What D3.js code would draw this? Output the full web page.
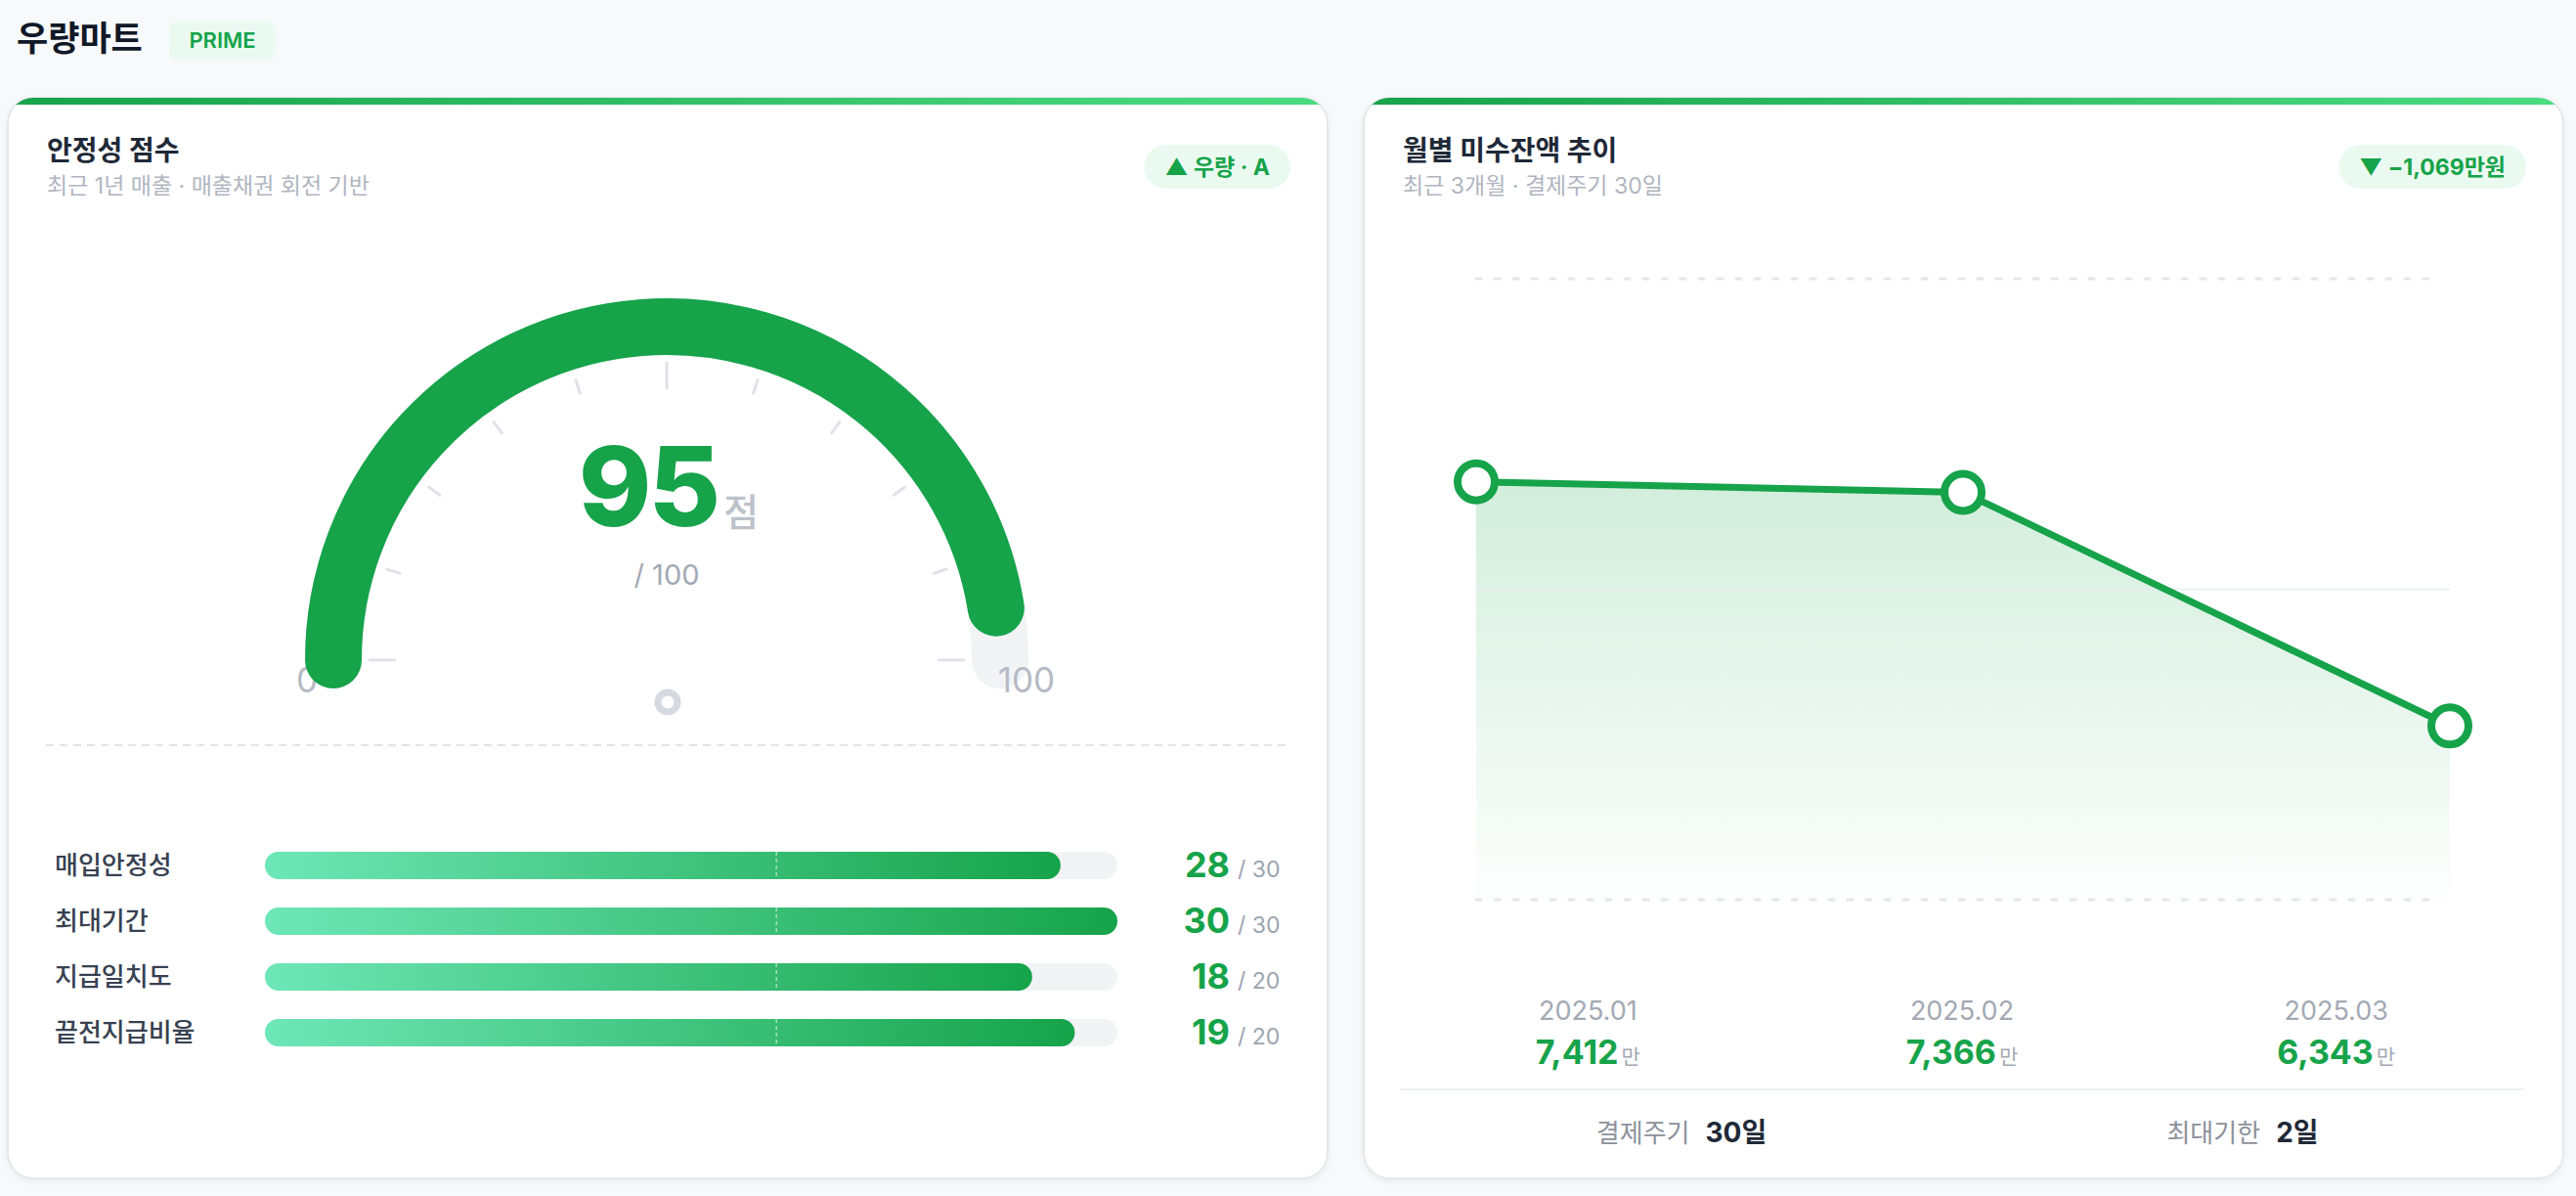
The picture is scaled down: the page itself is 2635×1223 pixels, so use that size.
<!DOCTYPE html>
<html><head><meta charset="utf-8">
<script src="https://cdn.jsdelivr.net/npm/d3@7"></script>
<style>
html,body{margin:0;padding:0;background:#f8f9fb;}
svg{display:block;font-family:Inter,"Noto Sans CJK KR",sans-serif;}
</style></head>
<body><svg id="c" width="2635" height="1223"></svg>
<script>
// ---- data ----
const companyName = "우량마트";
const tierBadge = "PRIME";
const gaugeTitle = "안정성 점수";
const gaugeSubtitle = "최근 1년 매출 · 매출채권 회전 기반";
const gradeBadge = "▲ 우량 · A";
const totalScore = 95;
const totalMax = 100;
const gaugeTicks = [0,10,20,30,40,50,60,70,80,90,100];
const majorTicks = [0,50,100];
const categories = ["매입안정성","최대기간","지급일치도","끝전지급비율"];
const scores = [28,30,18,19];
const maxScores = [30,30,20,20];
const markerRatio = 0.6;

const trendTitle = "월별 미수잔액 추이";
const trendSubtitle = "최근 3개월 · 결제주기 30일";
const months = ["2025.01","2025.02","2025.03"];
const balances = [7412,7366,6343];
const footerLabels = ["결제주기","최대기한"];
const footerValues = ["30일","2일"];

const GREEN = "#16a34a";
const svg = d3.select("#c");
const defs = svg.append("defs");

// gradients
const topGrad = defs.append("linearGradient").attr("id","topbar");
topGrad.append("stop").attr("offset","0%").attr("stop-color","#16a34a");
topGrad.append("stop").attr("offset","100%").attr("stop-color","#4ade80");
const barGrad = defs.append("linearGradient").attr("id","bargrad");
barGrad.append("stop").attr("offset","0%").attr("stop-color","#6ee7b7");
barGrad.append("stop").attr("offset","100%").attr("stop-color","#16a34a");
const areaGrad = defs.append("linearGradient").attr("id","areagrad").attr("x1",0).attr("y1",0).attr("x2",0).attr("y2",1);
areaGrad.append("stop").attr("offset","0%").attr("stop-color",GREEN).attr("stop-opacity",0.19);
areaGrad.append("stop").attr("offset","100%").attr("stop-color",GREEN).attr("stop-opacity",0.01);
const sh = defs.append("filter").attr("id","shadow").attr("x","-5%").attr("y","-5%").attr("width","110%").attr("height","110%");
sh.append("feDropShadow").attr("dx",0).attr("dy",2).attr("stdDeviation",3).attr("flood-color","#0f172a").attr("flood-opacity",0.06);

// ---- page header ----
svg.append("text").attr("x",17).attr("y",52).attr("font-size",35).attr("font-weight",700).attr("fill","#111827").text(companyName);
svg.append("rect").attr("x",173).attr("y",21).attr("width",109).attr("height",41).attr("rx",10).attr("fill","#eafaf0");
svg.append("text").attr("x",227.5).attr("y",49).attr("text-anchor","middle").attr("font-size",22).attr("font-weight",600).attr("fill",GREEN).text(tierBadge);

// ---- cards ----
function card(id,x,w,title,sub,badge){
  const y=100,h=1105;
  defs.append("clipPath").attr("id","clip"+id).append("rect").attr("x",x).attr("y",y).attr("width",w).attr("height",h).attr("rx",26);
  svg.append("rect").attr("x",x).attr("y",y).attr("width",w).attr("height",h).attr("rx",26)
     .attr("fill","#fff").attr("stroke","#e5e7eb").attr("stroke-width",2).attr("filter","url(#shadow)");
  svg.append("rect").attr("x",x).attr("y",y).attr("width",w).attr("height",7).attr("fill","url(#topbar)").attr("clip-path","url(#clip"+id+")");
  svg.append("text").attr("x",x+40).attr("y",164).attr("font-size",28).attr("font-weight",700).attr("fill","#1f2937").text(title);
  svg.append("text").attr("x",x+40).attr("y",198).attr("font-size",23).attr("fill","#b0b5bf").text(sub);
  const g=svg.append("g");
  const br=g.append("rect").attr("y",148).attr("height",45).attr("rx",22.5).attr("fill","#eafaf0");
  const bt=g.append("text").attr("y",179).attr("text-anchor","middle").attr("font-size",23).attr("font-weight",700).attr("fill",GREEN).text(badge);
  const tw=bt.node().getComputedTextLength();
  const bw=tw+42, right=x+w-38;
  br.attr("x",right-bw).attr("width",bw);
  bt.attr("x",right-bw/2);
}
card("L",8,1350,gaugeTitle,gaugeSubtitle,gradeBadge);
const change = balances[balances.length-1]-balances[0];
card("R",1395,1227,trendTitle,trendSubtitle,"▼ "+d3.format(",")(change)+"만원");

// ---- gauge ----
const cx=682, cy=675, rMid=341, thick=58;
const ang = d3.scaleLinear().domain([0,totalMax]).range([Math.PI,2*Math.PI]);
function arcPath(v0,v1){const p=d3.path();p.arc(cx,cy,rMid,ang(v0),ang(v1),false);return p.toString();}
const gg=svg.append("g");
gg.append("path").attr("d",arcPath(0,totalMax)).attr("fill","none").attr("stroke","#f1f3f5").attr("stroke-width",thick).attr("stroke-linecap","round");
gg.selectAll("line.tick").data(gaugeTicks).join("line")
  .each(function(v){
    const a=ang(v), major=majorTicks.includes(v);
    const r0=major?278:287, r1=major?304:301;
    d3.select(this).attr("x1",cx+r0*Math.cos(a)).attr("y1",cy+r0*Math.sin(a))
      .attr("x2",cx+r1*Math.cos(a)).attr("y2",cy+r1*Math.sin(a));
  })
  .attr("stroke","#dfe2e8").attr("stroke-width",3).attr("stroke-linecap","round");
gg.append("text").attr("x",cx+ (rMid+30)*Math.cos(ang(0))+3).attr("y",cy+33).attr("text-anchor","middle").attr("font-size",35).attr("fill","#b5bac4").text(0);
gg.append("text").attr("x",cx+ (rMid+30)*Math.cos(ang(totalMax))-3).attr("y",cy+33).attr("text-anchor","middle").attr("font-size",35).attr("fill","#b5bac4").text(totalMax);
gg.append("path").attr("d",arcPath(0,totalScore)).attr("fill","none").attr("stroke",GREEN).attr("stroke-width",thick).attr("stroke-linecap","round");
const st=gg.append("text").attr("x",cx+2).attr("y",538).attr("text-anchor","middle");
st.append("tspan").attr("font-size",113).attr("font-weight",800).attr("fill",GREEN).attr("letter-spacing",-3).text(totalScore);
st.append("tspan").attr("dx",6).attr("font-size",39).attr("font-weight",500).attr("fill","#bcc1ca").text("점");
gg.append("text").attr("x",cx).attr("y",598).attr("text-anchor","middle").attr("font-size",29).attr("fill","#a3a9b4").text("/ "+totalMax);
gg.append("circle").attr("cx",cx+1).attr("cy",718).attr("r",10).attr("fill","#fff").attr("stroke","#d5d9e0").attr("stroke-width",7);
svg.append("line").attr("x1",47).attr("x2",1321).attr("y1",762).attr("y2",762).attr("stroke","#e1e4e9").attr("stroke-width",2).attr("stroke-dasharray","8 6");

// ---- breakdown bars ----
const rowY = d3.scalePoint().domain(categories).range([885,1056]);
const barH=28, bx0=271, bx1=1143;
const rows = svg.append("g").selectAll("g").data(categories).join("g");
rows.each(function(cat,i){
  const g=d3.select(this), yc=rowY(cat);
  const xs=d3.scaleLinear().domain([0,maxScores[i]]).range([bx0,bx1]);
  g.append("text").attr("x",56).attr("y",yc+9).attr("font-size",26).attr("font-weight",500).attr("fill","#374151").text(cat);
  g.append("rect").attr("x",xs(0)).attr("y",yc-barH/2).attr("width",xs(maxScores[i])-xs(0)).attr("height",barH).attr("rx",barH/2).attr("fill","#f1f3f5");
  g.append("rect").attr("x",xs(0)).attr("y",yc-barH/2).attr("width",xs(scores[i])-xs(0)).attr("height",barH).attr("rx",barH/2).attr("fill","url(#bargrad)");
  const mx=xs(maxScores[i]*markerRatio);
  g.append("line").attr("x1",mx).attr("x2",mx).attr("y1",yc-barH/2).attr("y2",yc+barH/2).attr("stroke","#ffffff").attr("stroke-opacity",0.55).attr("stroke-width",1.5).attr("stroke-dasharray","4 3");
  g.append("text").attr("x",1258).attr("y",yc+12).attr("text-anchor","end").attr("font-size",36).attr("font-weight",700).attr("fill",GREEN).text(scores[i]);
  g.append("text").attr("x",1266).attr("y",yc+12).attr("font-size",23).attr("fill","#9ca3af").text("/ "+maxScores[i]);
});

// ---- trend chart ----
const x = d3.scalePoint().domain(months).range([1510,2506]);
const y = d3.scaleLinear().domain([d3.min(balances)*0.88, d3.max(balances)*1.12]).range([920,285]);
const [d0,d1]=y.domain();
const grid=[{v:d1,dash:"5 14"},{v:(d0+d1)/2,dash:null},{v:d0,dash:"5 14"}];
const cg=svg.append("g");
const pts=months.map((m,i)=>({m,v:balances[i]}));
cg.append("path").datum(pts)
  .attr("d",d3.area().x(d=>x(d.m)).y0(y(d0)).y1(d=>y(d.v)))
  .attr("fill","url(#areagrad)");
cg.selectAll("line.grid").data(grid).join("line")
  .attr("x1",1510).attr("x2",d=>d.dash?2494:2506).attr("y1",d=>y(d.v)).attr("y2",d=>y(d.v))
  .attr("stroke",d=>d.dash?"#e3e6ea":"#e9ecef").attr("stroke-opacity",d=>d.dash?1:0.8).attr("stroke-width",d=>d.dash?3:2)
  .attr("stroke-dasharray",d=>d.dash).attr("stroke-linecap",d=>d.dash?"round":"butt");
cg.append("path").datum(pts)
  .attr("d",d3.line().x(d=>x(d.m)).y(d=>y(d.v)))
  .attr("fill","none").attr("stroke",GREEN).attr("stroke-width",7).attr("stroke-linejoin","round");
cg.selectAll("circle").data(pts).join("circle")
  .attr("cx",d=>x(d.m)).attr("cy",d=>y(d.v)).attr("r",19)
  .attr("fill","#fff").attr("stroke",GREEN).attr("stroke-width",8);

// labels under chart
const col = d3.scaleBand().domain(months).range([1433,2581]);
const lab = svg.append("g").selectAll("g").data(pts).join("g");
lab.append("text").attr("x",d=>col(d.m)+col.bandwidth()/2).attr("y",1043).attr("text-anchor","middle")
  .attr("font-size",27).attr("fill","#a3a9b3").text(d=>d.m);
const vt=lab.append("text").attr("x",d=>col(d.m)+col.bandwidth()/2).attr("y",1088).attr("text-anchor","middle");
vt.append("tspan").attr("font-size",34).attr("font-weight",700).attr("fill",GREEN).text(d=>d3.format(",")(d.v));
vt.append("tspan").attr("dx",3).attr("font-size",21).attr("fill","#a3a9b3").text("만");
svg.append("line").attr("x1",1433).attr("x2",2581).attr("y1",1114).attr("y2",1114).attr("stroke","#eceef1").attr("stroke-width",2);
const fcol = d3.scaleBand().domain(footerLabels).range([1433,2581]);
const ft = svg.append("g").selectAll("text").data(footerLabels).join("text")
  .attr("x",d=>fcol(d)+fcol.bandwidth()/2).attr("y",1168).attr("text-anchor","middle");
ft.append("tspan").attr("font-size",26).attr("fill","#8b919b").text(d=>d);
ft.append("tspan").attr("dx",16).attr("font-size",28).attr("font-weight",700).attr("fill","#1f2937").text((d,i)=>footerValues[i]);
</script></body></html>
